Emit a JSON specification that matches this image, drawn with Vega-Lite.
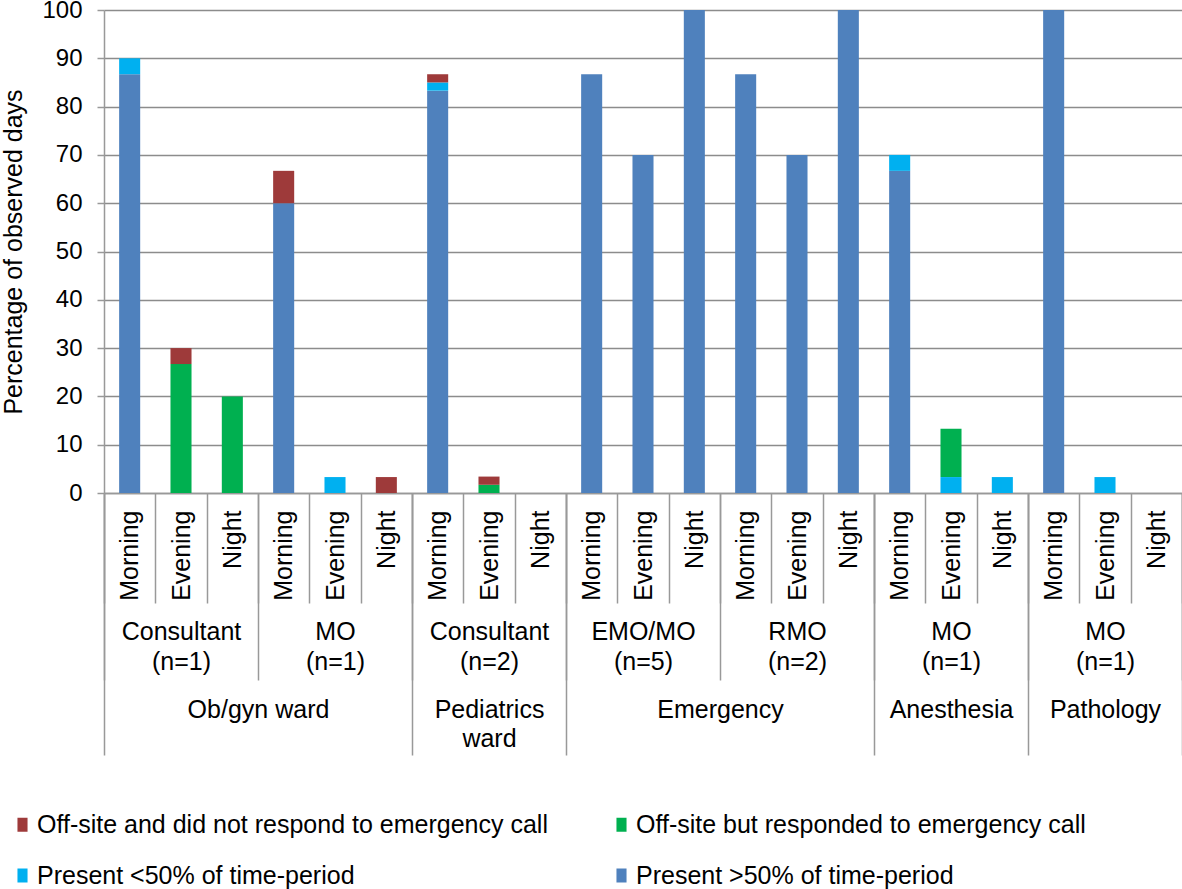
{
  "$schema": "https://vega.github.io/schema/vega-lite/v6.json",
  "width": 1078,
  "height": 483,
  "autosize": {"type": "none"},
  "padding": {"left": 104, "top": 10, "right": 0, "bottom": 396},
  "config": {"font": "Liberation Sans", "view": {"stroke": null}},
  "data": {
    "values": [
      {"bar": "Ob/gyn ward|Consultant (n=1)|Morning", "status": "Present >50% of time-period", "pct": 86.7},
      {"bar": "Ob/gyn ward|Consultant (n=1)|Morning", "status": "Present <50% of time-period", "pct": 3.3},
      {"bar": "Ob/gyn ward|Consultant (n=1)|Evening", "status": "Off-site but responded to emergency call", "pct": 26.7},
      {"bar": "Ob/gyn ward|Consultant (n=1)|Evening", "status": "Off-site and did not respond to emergency call", "pct": 3.3},
      {"bar": "Ob/gyn ward|Consultant (n=1)|Night", "status": "Off-site but responded to emergency call", "pct": 20},
      {"bar": "Ob/gyn ward|MO (n=1)|Morning", "status": "Present >50% of time-period", "pct": 60},
      {"bar": "Ob/gyn ward|MO (n=1)|Morning", "status": "Off-site and did not respond to emergency call", "pct": 6.7},
      {"bar": "Ob/gyn ward|MO (n=1)|Evening", "status": "Present <50% of time-period", "pct": 3.3},
      {"bar": "Ob/gyn ward|MO (n=1)|Night", "status": "Off-site and did not respond to emergency call", "pct": 3.3},
      {"bar": "Pediatrics ward|Consultant (n=2)|Morning", "status": "Present >50% of time-period", "pct": 83.3},
      {"bar": "Pediatrics ward|Consultant (n=2)|Morning", "status": "Present <50% of time-period", "pct": 1.7},
      {"bar": "Pediatrics ward|Consultant (n=2)|Morning", "status": "Off-site and did not respond to emergency call", "pct": 1.7},
      {"bar": "Pediatrics ward|Consultant (n=2)|Evening", "status": "Off-site but responded to emergency call", "pct": 1.7},
      {"bar": "Pediatrics ward|Consultant (n=2)|Evening", "status": "Off-site and did not respond to emergency call", "pct": 1.7},
      {"bar": "Pediatrics ward|Consultant (n=2)|Night", "status": "Present >50% of time-period", "pct": 0},
      {"bar": "Emergency|EMO/MO (n=5)|Morning", "status": "Present >50% of time-period", "pct": 86.7},
      {"bar": "Emergency|EMO/MO (n=5)|Evening", "status": "Present >50% of time-period", "pct": 70},
      {"bar": "Emergency|EMO/MO (n=5)|Night", "status": "Present >50% of time-period", "pct": 100},
      {"bar": "Emergency|RMO (n=2)|Morning", "status": "Present >50% of time-period", "pct": 86.7},
      {"bar": "Emergency|RMO (n=2)|Evening", "status": "Present >50% of time-period", "pct": 70},
      {"bar": "Emergency|RMO (n=2)|Night", "status": "Present >50% of time-period", "pct": 100},
      {"bar": "Anesthesia|MO (n=1)|Morning", "status": "Present >50% of time-period", "pct": 66.7},
      {"bar": "Anesthesia|MO (n=1)|Morning", "status": "Present <50% of time-period", "pct": 3.3},
      {"bar": "Anesthesia|MO (n=1)|Evening", "status": "Present <50% of time-period", "pct": 3.3},
      {"bar": "Anesthesia|MO (n=1)|Evening", "status": "Off-site but responded to emergency call", "pct": 10},
      {"bar": "Anesthesia|MO (n=1)|Night", "status": "Present <50% of time-period", "pct": 3.3},
      {"bar": "Pathology|MO (n=1)|Morning", "status": "Present >50% of time-period", "pct": 100},
      {"bar": "Pathology|MO (n=1)|Evening", "status": "Present <50% of time-period", "pct": 3.3},
      {"bar": "Pathology|MO (n=1)|Night", "status": "Present >50% of time-period", "pct": 0}
    ]
  },
  "layer": [
    {
      "mark": {"type": "bar", "width": {"band": 0.41}},
      "encoding": {
        "x": {
          "field": "bar", "type": "nominal", "sort": null,
          "scale": {
            "paddingInner": 0, "paddingOuter": 0,
            "domain": [
              "Ob/gyn ward|Consultant (n=1)|Morning", "Ob/gyn ward|Consultant (n=1)|Evening", "Ob/gyn ward|Consultant (n=1)|Night",
              "Ob/gyn ward|MO (n=1)|Morning", "Ob/gyn ward|MO (n=1)|Evening", "Ob/gyn ward|MO (n=1)|Night",
              "Pediatrics ward|Consultant (n=2)|Morning", "Pediatrics ward|Consultant (n=2)|Evening", "Pediatrics ward|Consultant (n=2)|Night",
              "Emergency|EMO/MO (n=5)|Morning", "Emergency|EMO/MO (n=5)|Evening", "Emergency|EMO/MO (n=5)|Night",
              "Emergency|RMO (n=2)|Morning", "Emergency|RMO (n=2)|Evening", "Emergency|RMO (n=2)|Night",
              "Anesthesia|MO (n=1)|Morning", "Anesthesia|MO (n=1)|Evening", "Anesthesia|MO (n=1)|Night",
              "Pathology|MO (n=1)|Morning", "Pathology|MO (n=1)|Evening", "Pathology|MO (n=1)|Night"
            ]
          },
          "axis": {
            "title": null, "orient": "bottom",
            "labelExpr": "datum.value ? split(datum.value, '|')[2] : ''",
            "labelAngle": -90, "labelAlign": "right", "labelBaseline": "middle",
            "labelFontSize": 25, "labelColor": "#000000", "labelPadding": -93, "labelLimit": 0,
            "tickBand": "extent", "tickSize": 110, "tickColor": "#999999", "tickWidth": 1.5,
            "domain": true, "domainColor": "#999999", "domainWidth": 1.5, "grid": false
          }
        },
        "y": {
          "field": "pct", "type": "quantitative", "stack": "zero",
          "scale": {"domain": [0, 100], "nice": false},
          "axis": {
            "title": "Percentage of observed days",
            "values": [0, 10, 20, 30, 40, 50, 60, 70, 80, 90, 100],
            "grid": true, "gridColor": "#8c8c8c", "gridWidth": 1.5,
            "domainColor": "#999999", "domainWidth": 1.5,
            "tickColor": "#999999", "tickSize": 7, "tickWidth": 1.5,
            "labelFontSize": 24, "labelPadding": 15, "labelColor": "#000000",
            "titleFontSize": 25, "titleFontWeight": "normal", "titleColor": "#000000", "titlePadding": 15
          }
        },
        "color": {
          "field": "status", "type": "nominal",
          "scale": {
            "domain": ["Off-site and did not respond to emergency call", "Off-site but responded to emergency call", "Present <50% of time-period", "Present >50% of time-period"],
            "range": ["#9e3a3a", "#00b050", "#00b0f0", "#4f81bd"]
          },
          "legend": {
            "title": null, "orient": "none", "legendX": -94, "legendY": 802,
            "columns": 2, "direction": "horizontal",
            "symbolType": "M-0.72,-1H0.72V1H-0.72Z", "symbolSize": 196, "symbolStrokeWidth": 0, "symbolOpacity": 1,
            "labelFontSize": 25, "labelColor": "#000000", "labelOffset": 2, "labelLimit": 800,
            "columnPadding": 61, "rowPadding": 25
          }
        },
        "order": {"field": "status", "sort": "descending"}
      }
    },
    {
      "mark": {"type": "point", "opacity": 0},
      "encoding": {
        "x": {
          "field": "bar", "type": "nominal", "sort": null,
          "axis": {
            "title": null, "orient": "bottom",
            "labelExpr": "datum.value && split(datum.value, '|')[2] == 'Evening' ? split(split(datum.value, '|')[1], ' ') : ''",
            "labelAngle": 0, "labelAlign": "center", "labelBaseline": "top",
            "labelFontSize": 25, "labelLineHeight": 30, "labelColor": "#000000", "labelPadding": -61, "labelLimit": 0,
            "tickBand": "extent", "tickSize": 187, "tickColor": "#999999", "tickWidth": 1.5,
            "tickOpacity": {"condition": {"test": "datum.extra || !datum.value || indexof(datum.value, '|Night') > 0", "value": 1}, "value": 0},
            "domain": false, "grid": false
          }
        }
      }
    },
    {
      "mark": {"type": "point", "opacity": 0},
      "encoding": {
        "x": {
          "field": "bar", "type": "nominal", "sort": null,
          "axis": {
            "title": null, "orient": "bottom",
            "labelExpr": "!datum.value ? '' : ((datum.value == 'Ob/gyn ward|MO (n=1)|Morning' || datum.value == 'Emergency|RMO (n=2)|Morning') ? split(datum.value, '|')[0] : ((datum.value == 'Pediatrics ward|Consultant (n=2)|Evening' || datum.value == 'Anesthesia|MO (n=1)|Evening' || datum.value == 'Pathology|MO (n=1)|Evening') ? split(split(datum.value, '|')[0], ' ') : ''))",
            "labelAngle": 0, "labelAlign": "center", "labelBaseline": "top",
            "labelFontSize": 25, "labelLineHeight": 29, "labelColor": "#000000", "labelPadding": -58, "labelLimit": 0,
            "labelOffset": {"condition": {"test": "datum.value && indexof(datum.value, 'Morning') > 0", "value": -25.67}, "value": 0},
            "tickBand": "extent", "tickSize": 262, "tickColor": "#999999", "tickWidth": 1.5,
            "tickOpacity": {"condition": {"test": "datum.extra || !datum.value || datum.value == 'Ob/gyn ward|MO (n=1)|Night' || datum.value == 'Pediatrics ward|Consultant (n=2)|Night' || datum.value == 'Emergency|RMO (n=2)|Night' || datum.value == 'Anesthesia|MO (n=1)|Night' || datum.value == 'Pathology|MO (n=1)|Night'", "value": 1}, "value": 0},
            "domain": false, "grid": false
          }
        }
      }
    }
  ],
  "resolve": {"axis": {"x": "independent"}}
}
